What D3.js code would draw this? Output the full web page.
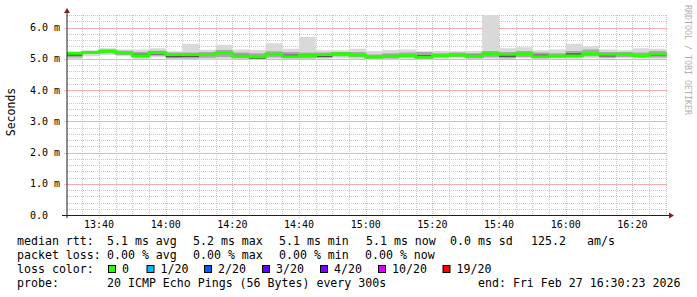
<!DOCTYPE html>
<html lang="en">
<head>
    <meta charset="UTF-8">
    <title>smokeping_rtt</title>
    <style>
        body { margin: 0; background: #ffffff; }
        svg { display: block; }
        text { font-family: "DejaVu Sans Mono", monospace; }
    </style>
</head>
<body>
    <div id="chart"></div>

    <script src="https://d3js.org/d3.v7.min.js"></script>
    <script>
        // 5 minute bins (start time of each step)
        var binStarts = ["13:30","13:35","13:40","13:45","13:50","13:55","14:00","14:05","14:10","14:15",
                         "14:20","14:25","14:30","14:35","14:40","14:45","14:50","14:55","15:00","15:05",
                         "15:10","15:15","15:20","15:25","15:30","15:35","15:40","15:45","15:50","15:55",
                         "16:00","16:05","16:10","16:15","16:20","16:25","16:30"];

        // median rtt (ms)
        var median = [5.17,5.20,5.24,5.19,5.10,5.20,5.13,5.13,5.13,5.19,
                      5.08,5.06,5.15,5.07,5.10,5.13,5.16,5.12,5.05,5.08,
                      5.10,5.05,5.10,5.12,5.08,5.16,5.14,5.16,5.07,5.09,
                      5.09,5.16,5.14,5.15,5.10,5.15,5.15];

        // smoke: outer (min..max), middle and inner bands of the pings (ms)
        var outerLo = [4.98,5.08,5.12,5.08,4.99,5.05,4.98,4.98,4.98,4.98,
                       4.99,4.98,5.00,4.99,4.99,5.00,5.02,5.00,4.97,4.98,
                       5.00,4.98,5.00,5.02,4.99,5.00,4.99,5.02,4.99,5.00,
                       5.00,5.02,5.00,5.02,5.00,5.00,5.00];
        var outerHi = [5.24,5.27,5.34,5.30,5.30,5.34,5.24,5.48,5.29,5.45,
                       5.30,5.28,5.50,5.32,5.70,5.27,5.27,5.32,5.25,5.28,
                       5.30,5.24,5.25,5.24,5.25,6.40,5.34,5.37,5.27,5.30,
                       5.48,5.40,5.30,5.27,5.34,5.32,5.30];
        var midLo = [5.04,5.15,5.18,5.12,5.03,5.10,5.02,5.01,5.03,5.06,
                     5.02,4.99,5.05,5.02,5.02,5.03,5.08,5.05,5.00,5.01,
                     5.04,5.00,5.04,5.06,5.02,5.05,5.02,5.06,5.02,5.03,
                     5.04,5.08,5.03,5.06,5.04,5.04,5.05];
        var midHi = [5.22,5.25,5.30,5.26,5.22,5.26,5.20,5.20,5.22,5.28,
                     5.20,5.18,5.24,5.22,5.20,5.20,5.22,5.22,5.14,5.18,
                     5.20,5.22,5.18,5.20,5.18,5.25,5.22,5.25,5.20,5.18,
                     5.25,5.30,5.22,5.22,5.20,5.25,5.22];
        var innerLo = [5.10,5.18,5.22,5.17,5.10,5.14,5.05,5.06,5.10,5.16,
                       5.07,5.00,5.12,5.05,5.08,5.06,5.14,5.10,5.03,5.06,
                       5.08,5.05,5.08,5.10,5.06,5.12,5.06,5.14,5.07,5.07,
                       5.09,5.14,5.07,5.13,5.08,5.10,5.12];
        var innerHi = [5.17,5.22,5.26,5.21,5.16,5.20,5.13,5.13,5.15,5.21,
                       5.13,5.06,5.17,5.14,5.13,5.13,5.18,5.14,5.08,5.12,
                       5.12,5.12,5.12,5.15,5.13,5.18,5.14,5.18,5.14,5.11,
                       5.18,5.18,5.14,5.17,5.12,5.18,5.17];

        var startTime = "2026-02-27 13:30:23";
        var endTime = "2026-02-27 16:30:23";
        var binMinutes = 5;

        var yTickValues = [0, 1, 2, 3, 4, 5, 6];
        var yTickLabels = ["0.0", "1.0 m", "2.0 m", "3.0 m", "4.0 m", "5.0 m", "6.0 m"];
        var yMax = 6.4;

        var lossLabels = ["0", "1/20", "2/20", "3/20", "4/20", "10/20", "19/20"];
        var lossColors = ["#26ff00", "#00b8ff", "#0059ff", "#5e00ff", "#7e00ff", "#dd00ff", "#ff0000"];

        // set the dimensions of the plot area
        var W = 697, H = 297;
        var plotL = 67, plotR = 667, plotT = 15, plotB = 215;

        var parseFull = d3.timeParse("%Y-%m-%d %H:%M:%S");
        var parseBin = d3.timeParse("%Y-%m-%d %H:%M");

        var svg = d3.select("#chart").append("svg")
            .attr("width", W)
            .attr("height", H);

        svg.append("rect").attr("width", W).attr("height", H).attr("fill", "#ffffff");

        var x = d3.scaleTime()
            .domain([parseFull(startTime), parseFull(endTime)])
            .range([plotL, plotR]);
        var y = d3.scaleLinear()
            .domain([0, yMax])
            .range([plotB, plotT]);

        // snap grid lines onto pixel centres so the dots stay crisp
        function px(v) { return Math.round(v) + 0.5; }

        // rows for step areas, plus one closing point at the end of the last bin
        var rows = binStarts.map(function(s, i) {
            return { t: parseBin("2026-02-27 " + s), med: median[i],
                     oLo: outerLo[i], oHi: outerHi[i], mLo: midLo[i], mHi: midHi[i],
                     iLo: innerLo[i], iHi: innerHi[i] };
        });
        var last = rows[rows.length - 1];
        rows.push(Object.assign({}, last, { t: d3.timeMinute.offset(last.t, binMinutes) }));

        // grid
        var grid = svg.append("g").attr("shape-rendering", "crispEdges");
        var minorY = d3.range(0, yMax + 0.001, 0.2);
        grid.selectAll("line.hmin").data(minorY).enter().append("line")
            .attr("x1", plotL).attr("x2", plotR)
            .attr("y1", function(d) { return px(y(d)); }).attr("y2", function(d) { return px(y(d)); })
            .attr("stroke", "#c8c8c8").attr("stroke-dasharray", "1,1");
        var minorX = x.ticks(d3.timeMinute.every(5));
        grid.selectAll("line.vmin").data(minorX).enter().append("line")
            .attr("x1", function(d) { return px(x(d)); }).attr("x2", function(d) { return px(x(d)); })
            .attr("y1", plotT).attr("y2", plotB)
            .attr("stroke", "#c8c8c8").attr("stroke-dasharray", "1,1");
        grid.selectAll("line.hmaj").data(yTickValues).enter().append("line")
            .attr("x1", plotL - 3).attr("x2", plotR)
            .attr("y1", function(d) { return px(y(d)); }).attr("y2", function(d) { return px(y(d)); })
            .attr("stroke", "#efabab").attr("stroke-dasharray", "1,1");
        var majorX = x.ticks(d3.timeMinute.every(20));
        grid.selectAll("line.vmaj").data(majorX).enter().append("line")
            .attr("x1", function(d) { return px(x(d)); }).attr("x2", function(d) { return px(x(d)); })
            .attr("y1", plotT).attr("y2", plotB + 3)
            .attr("stroke", "#efabab").attr("stroke-dasharray", "1,1");

        // smoke + median, clipped to plot area
        svg.append("clipPath").attr("id", "plotclip")
            .append("rect").attr("x", plotL).attr("y", plotT - 1)
            .attr("width", plotR - plotL).attr("height", plotB - plotT + 1);
        var plot = svg.append("g").attr("clip-path", "url(#plotclip)");

        function band(lo, hi) {
            return d3.area().curve(d3.curveStepAfter)
                .x(function(d) { return x(d.t); })
                .y0(function(d) { return y(d[lo]); })
                .y1(function(d) { return y(d[hi]); });
        }
        plot.append("path").datum(rows).attr("d", band("oLo", "oHi")).attr("fill", "#d9d9d9");
        plot.append("path").datum(rows).attr("d", band("mLo", "mHi")).attr("fill", "#a9a9a9");
        plot.append("path").datum(rows).attr("d", band("iLo", "iHi")).attr("fill", "#555555");

        var medLine = d3.line().curve(d3.curveStepAfter)
            .x(function(d) { return x(d.t); })
            .y(function(d) { return y(d.med); });
        plot.append("path").datum(rows).attr("d", medLine)
            .attr("fill", "none").attr("stroke", lossColors[0]).attr("stroke-width", 2.8);

        // axes
        svg.append("line").attr("x1", plotL).attr("x2", plotL).attr("y1", plotB + 3).attr("y2", 11)
            .attr("stroke", "#1f1f1f");
        svg.append("line").attr("x1", plotL - 5).attr("x2", plotR + 3).attr("y1", plotB + 0.5).attr("y2", plotB + 0.5)
            .attr("stroke", "#1f1f1f");
        svg.append("path").attr("d", "M" + plotL + ",8L" + (plotL - 3) + ",13L" + (plotL + 3) + ",13Z")
            .attr("fill", "#801f1f");
        svg.append("path").attr("d", "M" + (plotR + 7) + "," + (plotB + 0.5) + "L" + (plotR + 2) + "," + (plotB - 2.5) + "L" + (plotR + 2) + "," + (plotB + 3.5) + "Z")
            .attr("fill", "#801f1f");

        // tick labels
        svg.selectAll("text.ylab").data(yTickValues).enter().append("text")
            .attr("x", 30).attr("y", function(d) { return y(d) + 3.5; })
            .attr("font-size", "10px").attr("fill", "#000")
            .text(function(d, i) { return yTickLabels[i]; });
        var fmt = d3.timeFormat("%H:%M");
        svg.selectAll("text.xlab").data(majorX).enter().append("text")
            .attr("x", function(d) { return x(d); }).attr("y", 228)
            .attr("text-anchor", "middle").attr("font-size", "10px").attr("fill", "#000")
            .text(function(d) { return fmt(d); });

        // vertical label and watermark
        svg.append("text").attr("transform", "translate(15,112) rotate(-90)")
            .attr("text-anchor", "middle").attr("font-size", "11.5px").attr("fill", "#000")
            .text("Seconds");
        svg.append("text").attr("transform", "translate(685,5) rotate(90)")
            .attr("font-size", "8.3px").attr("fill", "#b0b0b0")
            .text("RRDTOOL / TOBI OETIKER");

        // legend
        var legendRows = [
            { y: 245, parts: [[17, "median rtt:"], [107, "5.1 ms avg"], [193, "5.2 ms max"], [279, "5.1 ms min"],
                              [366, "5.1 ms now"], [450, "0.0 ms sd"], [531, "125.2"], [587, "am/s"]] },
            { y: 259, parts: [[17, "packet loss:"], [107, "0.00 % avg"], [193, "0.00 % max"], [279, "0.00 % min"],
                              [365, "0.00 % now"]] },
            { y: 273, parts: [[17, "loss color:"]] },
            { y: 286.5, parts: [[17, "probe:"], [107, "20 ICMP Echo Pings (56 Bytes) every 300s"],
                                [478, "end: Fri Feb 27 16:30:23 2026"]] }
        ];
        legendRows.forEach(function(r) {
            r.parts.forEach(function(p) {
                svg.append("text").attr("x", p[0]).attr("y", r.y)
                    .attr("font-size", "11.6px").attr("fill", "#000")
                    .attr("xml:space", "preserve").text(p[1]);
            });
        });
        var swatchX = [108, 146.5, 204, 262, 320, 378, 442.5];
        lossLabels.forEach(function(l, i) {
            svg.append("rect").attr("x", swatchX[i] + 0.5).attr("y", 265.5)
                .attr("width", 7).attr("height", 7)
                .attr("fill", lossColors[i]).attr("stroke", "#000").attr("stroke-width", 1);
            svg.append("text").attr("x", swatchX[i] + 14).attr("y", 273)
                .attr("font-size", "11.6px").attr("fill", "#000").text(l);
        });
    </script>
</body>
</html>
